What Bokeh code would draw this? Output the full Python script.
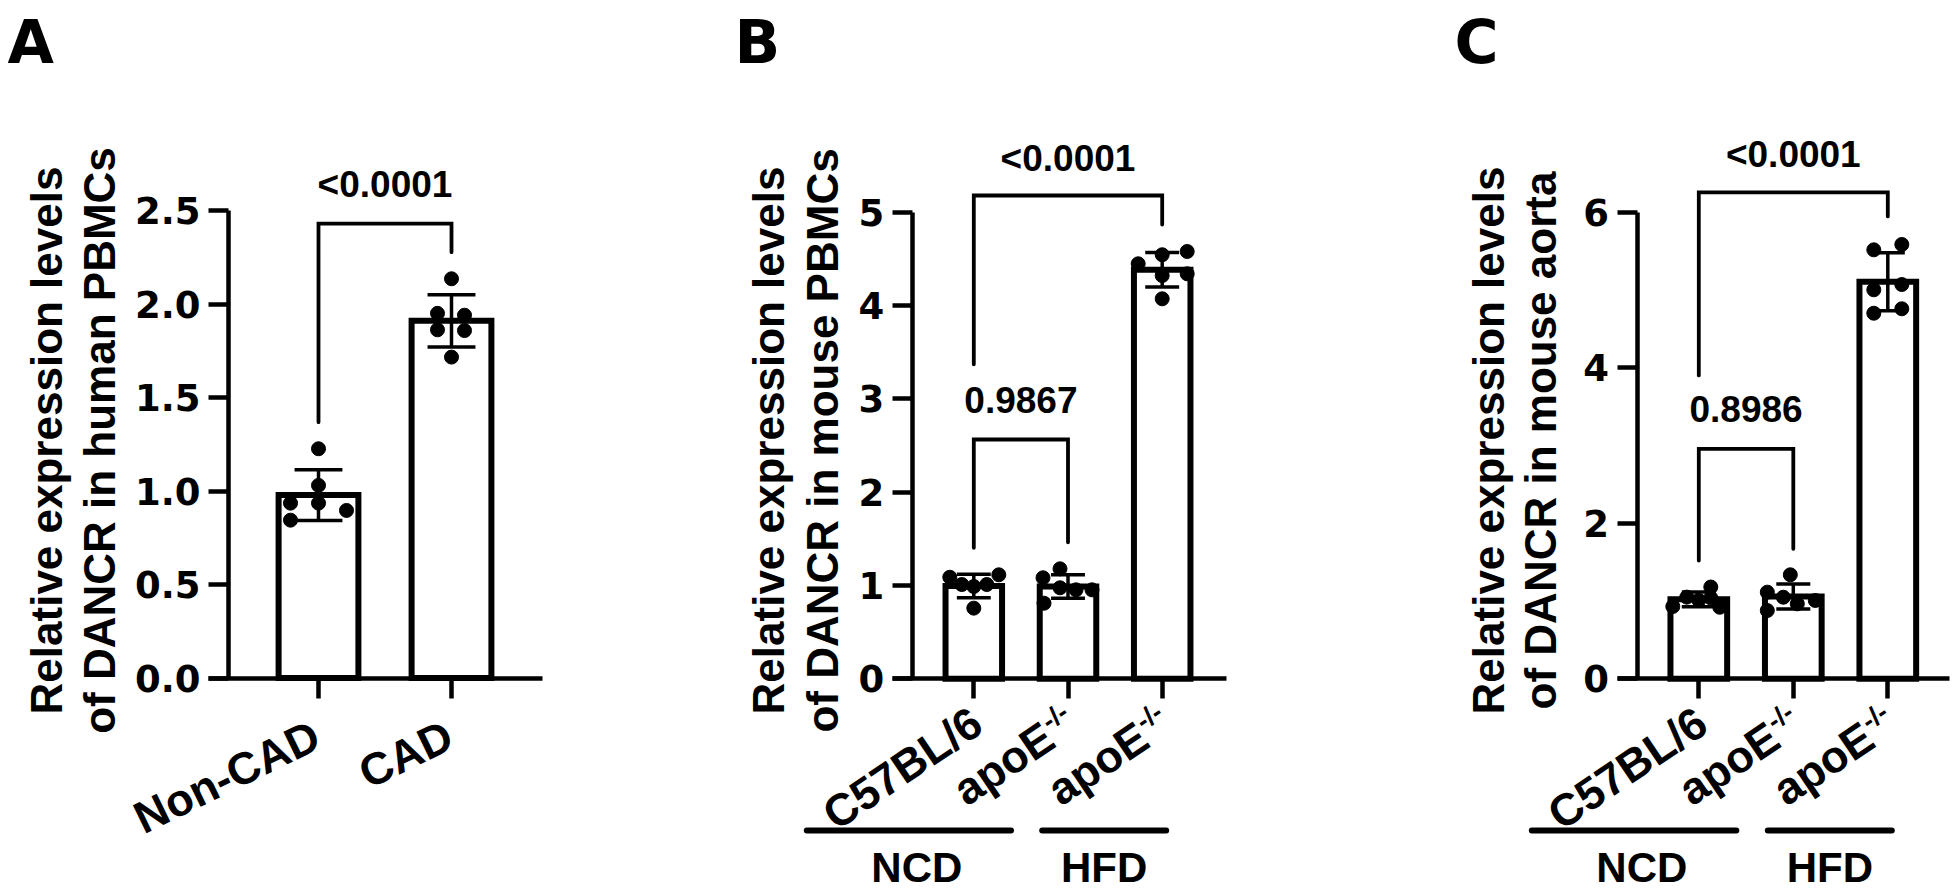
import math
from bokeh.plotting import figure
from bokeh.layouts import row
from bokeh.models import Range1d, FixedTicker, NumeralTickFormatter
from bokeh.core.properties import value
from bokeh.embed import file_html
from bokeh.resources import INLINE

# ---------------- data ----------------
a_title = "A"
a_categories = ["Non-CAD", "CAD"]
a_superscripts = ["", ""]
a_means = [0.978, 1.91]
a_sds = [0.136, 0.14]
a_points_noncad = [1.226, 1.03, 0.935, 0.935, 0.896, 0.844]
a_points_cad = [2.135, 1.95, 1.94, 1.862, 1.858, 1.716]
a_yticks = [0.0, 0.5, 1.0, 1.5, 2.0, 2.5]
a_ytick_labels = ["0.0", "0.5", "1.0", "1.5", "2.0", "2.5"]
a_ylabel = ["Relative expression levels", "of DANCR in human PBMCs"]
a_pvalues = ["<0.0001"]

b_title = "B"
b_categories = ["C57BL/6", "apoE", "apoE"]
b_superscripts = ["", "-/-", "-/-"]
b_groups = ["NCD", "HFD"]
b_means = [0.995, 0.99, 4.383]
b_sds = [0.126, 0.126, 0.185]
b_points_c57 = [1.088, 1.114, 1.01, 0.989, 1.01, 0.757]
b_points_apoe_ncd = [1.178, 1.082, 0.975, 0.953, 0.953, 0.81]
b_points_apoe_hfd = [4.446, 4.578, 4.543, 4.32, 4.339, 4.071]
b_yticks = [0, 1, 2, 3, 4, 5]
b_ytick_labels = ["0", "1", "2", "3", "4", "5"]
b_ylabel = ["Relative expression levels", "of DANCR in mouse PBMCs"]
b_pvalues = ["0.9867", "<0.0001"]

c_title = "C"
c_categories = ["C57BL/6", "apoE", "apoE"]
c_superscripts = ["", "-/-", "-/-"]
c_groups = ["NCD", "HFD"]
c_means = [1.022, 1.058, 5.104]
c_sds = [0.095, 0.16, 0.372]
c_points_c57 = [1.18, 1.05, 1.01, 1.04, 0.93, 0.92]
c_points_apoe_ncd = [1.337, 1.114, 1.049, 0.964, 1.007, 0.878]
c_points_apoe_hfd = [5.515, 5.584, 5.001, 5.069, 4.70, 4.757]
c_yticks = [0, 2, 4, 6]
c_ytick_labels = ["0", "2", "4", "6"]
c_ylabel = ["Relative expression levels", "of DANCR in mouse aorta"]
c_pvalues = ["0.8986", "<0.0001"]

# ---------------- layout (page pixels) ----------------
PAGE_TOP = 0
FIG_H = 892
ARIAL = value("Liberation Sans")
BASE_FIX = 0.36   # em shift so that the text baseline lands where intended

geom = {
    "A": dict(left=0, width=600, axis_x=228, cat1=318, step=133, y0=677.5, ytop=210, ymax=2.5,
              xend=542, lab_dx=-13, lab_dy=32, lab_size=45, lab_angle=26,
              ylab_px=[62, 115], title_x=7),
    "B": dict(left=600, width=740, axis_x=911.7, cat1=973.3, step=94.2, y0=678.3, ytop=211.6, ymax=5,
              xend=1226, lab_dx=-11, lab_dy=18, lab_size=45, lab_angle=34,
              ylab_px=[784, 838], title_x=734),
    "C": dict(left=1340, width=616, axis_x=1636.5, cat1=1698.3, step=94.5, y0=678.3, ytop=211.6, ymax=6,
              xend=1949, lab_dx=-11, lab_dy=18, lab_size=45, lab_angle=34,
              ylab_px=[1504, 1556], title_x=1454),
}

# jitter of the dots (pixels) and bracket geometry (data units)
jitter = {
    "A": [[0, 0, -28, 0, 28, -28], [0, -14, 13, -14, 13, 0]],
    "B": [[-24, 25, -12, 0, 13, 0], [-8, -25, -8, 8, 24, -24], [-24, 25, 0, 0, 25, 0]],
    "C": [[12, -12, 0, 12, -26, 21], [-3, -26, -10, 4, 22, -26], [-14, 14, -14, 14, -14, 14]],
}
# (cat_left, cat_right, leg_left_bottom, top, leg_right_bottom, text_baseline)
brackets = {
    "A": [(1, 2, 1.368, 2.43, 2.277, 2.57)],
    "B": [(1, 2, 1.403, 2.564, 1.463, 2.842), (1, 3, 3.37, 5.178, 4.867, 5.427)],
    "C": [(1, 2, 1.52, 2.957, 1.671, 3.295), (1, 3, 3.9, 6.253, 5.944, 6.574)],
}
# group lines: (first cat, left px offset, last cat, right px offset)
group_lines = [(1, -167, 2, -57), (3, -120, 3, 4)]
group_text_px = [(1, -57), (3, -58)]
GROUP_LINE_Y = 830
GROUP_TEXT_Y = 882


def build(key, title, cats, sups, means, sds, point_sets, yticks, ytick_labels, ylabel, pvalues,
          groups=None, fmt="0"):
    g = geom[key]
    step = g["step"]
    sy = (g["y0"] - g["ytop"]) / g["ymax"]

    def xd(px):
        return 1 + (px - g["cat1"]) / step

    def yd(py):
        return (g["y0"] - py) / sy

    p = figure(width=g["width"], height=FIG_H,
               x_range=Range1d(xd(g["left"]), xd(g["left"] + g["width"])),
               y_range=Range1d(yd(PAGE_TOP + FIG_H), yd(PAGE_TOP)),
               output_backend="svg", toolbar_location=None, min_border=0,
               background_fill_color="white", border_fill_color="white")
    p.outline_line_color = None
    p.xgrid.visible = False
    p.ygrid.visible = False

    ncat = len(cats)
    xs = list(range(1, ncat + 1))

    # y axis
    ya = p.yaxis[0]
    ya.fixed_location = xd(g["axis_x"])
    ya.bounds = (0, g["ymax"])
    ya.ticker = FixedTicker(ticks=yticks, minor_ticks=[])
    ya.formatter = NumeralTickFormatter(format=fmt)
    ya.major_label_overrides = {float(t): lab for t, lab in zip(yticks, ytick_labels)}
    ya.axis_line_width = 4.5
    ya.major_tick_line_width = 4.5
    ya.major_tick_out = 20
    ya.major_tick_in = 0
    ya.minor_tick_out = 0
    ya.minor_tick_in = 0
    ya.major_label_standoff = 8
    ya.major_label_text_font = "DejaVu Sans"
    ya.major_label_text_font_style = "bold"
    ya.major_label_text_font_size = "37px"
    ya.major_label_text_color = "black"

    # x axis
    xa = p.xaxis[0]
    xa.fixed_location = 0
    xa.bounds = (xd(g["axis_x"] - 20), xd(g["xend"]))
    xa.ticker = FixedTicker(ticks=xs, minor_ticks=[])
    xa.major_label_overrides = {x: "" for x in xs}
    xa.axis_line_width = 4.5
    xa.major_tick_line_width = 4.5
    xa.major_tick_out = 20
    xa.major_tick_in = 0
    xa.minor_tick_out = 0
    xa.minor_tick_in = 0
    xa.major_label_text_font_size = "0px"

    # bars
    p.vbar(x=xs, top=means, width=0.6, bottom=0, fill_color="white",
           line_color="black", line_width=6, line_join="miter")

    # error bars (mean +/- SD)
    cap = 0.18
    hi = [m + s for m, s in zip(means, sds)]
    lo = [m - s for m, s in zip(means, sds)]
    p.segment(x0=xs, y0=lo, x1=xs, y1=hi, line_color="black", line_width=3.5)
    p.segment(x0=[x - cap for x in xs] * 2, x1=[x + cap for x in xs] * 2,
              y0=hi + lo, y1=hi + lo, line_color="black", line_width=3.5)

    # individual points
    for i, pts in enumerate(point_sets):
        offs = jitter[key][i]
        p.scatter(x=[xs[i] + o / step for o in offs], y=pts, size=14,
                  marker="circle", fill_color="black", line_color="black")

    def htext(px, py_base, txt, size, font=ARIAL, align="center"):
        p.text(x=[xd(px)], y=[yd(py_base - BASE_FIX * size)], text=[txt], text_font=font,
               text_font_style="bold", text_font_size=f"{size}px", text_align=align,
               text_baseline="alphabetic", text_color="black")

    # significance brackets
    for (c1, c2, l1, top, l2, tb), txt in zip(brackets[key], pvalues):
        p.line(x=[c1, c1, c2, c2], y=[l1, top, top, l2], line_color="black",
               line_width=3.8, line_join="miter", line_cap="round")
        base_px = g["y0"] - tb * sy
        mid_px = g["cat1"] + ((c1 + c2) / 2 - 1) * step
        htext(mid_px, base_px, txt, 37)

    # y-axis title (two lines, rotated)
    for line, bx in zip(ylabel, g["ylab_px"]):
        p.text(x=[xd(bx - BASE_FIX * 44)], y=[yd(440)], text=[line], angle=math.pi / 2,
               text_font=ARIAL, text_font_style="bold", text_font_size="44px",
               text_align="center", text_baseline="alphabetic", text_color="black")

    # category labels (rotated)
    ang = math.radians(g["lab_angle"])
    ca, sa = math.cos(ang), math.sin(ang)
    size = g["lab_size"]
    sup_size = round(size * 0.6)
    for i, (name, sup) in enumerate(zip(cats, sups)):
        tick_px = g["cat1"] + i * step
        ax_px = tick_px + g["lab_dx"]
        ay_px = g["y0"] + g["lab_dy"]
        if sup:
            p.text(x=[xd(ax_px)], y=[yd(ay_px)], text=[sup], angle=ang, text_font=ARIAL,
                   text_font_style="bold", text_font_size=f"{sup_size}px", text_align="right",
                   text_baseline="top", text_color="black")
            w = sup_size * (0.333 + 0.278 + 0.333) + 1
            ax_px -= w * ca
            ay_px += w * sa
        p.text(x=[xd(ax_px)], y=[yd(ay_px)], text=[name], angle=ang, text_font=ARIAL,
               text_font_style="bold", text_font_size=f"{size}px", text_align="right",
               text_baseline="top", text_color="black")

    # treatment groups under the axis
    if groups:
        for (c_a, oa, c_b, ob), (ct, ot), gname in zip(group_lines, group_text_px, groups):
            x0 = xd(g["cat1"] + (c_a - 1) * step + oa)
            x1 = xd(g["cat1"] + (c_b - 1) * step + ob)
            p.segment(x0=[x0], x1=[x1], y0=[yd(GROUP_LINE_Y)], y1=[yd(GROUP_LINE_Y)],
                      line_color="black", line_width=6, line_cap="round")
            htext(g["cat1"] + (ct - 1) * step + ot, GROUP_TEXT_Y, gname, 42)

    # panel letter
    htext(g["title_x"], 63, title, 60, font=value("DejaVu Sans"), align="left")
    return p


pa = build("A", a_title, a_categories, a_superscripts, a_means, a_sds,
           [a_points_noncad, a_points_cad], a_yticks, a_ytick_labels, a_ylabel, a_pvalues,
           groups=None, fmt="0.0")
pb = build("B", b_title, b_categories, b_superscripts, b_means, b_sds,
           [b_points_c57, b_points_apoe_ncd, b_points_apoe_hfd], b_yticks, b_ytick_labels,
           b_ylabel, b_pvalues, groups=b_groups)
pc = build("C", c_title, c_categories, c_superscripts, c_means, c_sds,
           [c_points_c57, c_points_apoe_ncd, c_points_apoe_hfd], c_yticks, c_ytick_labels,
           c_ylabel, c_pvalues, groups=c_groups)

layout = row(pa, pb, pc, spacing=0)
open("out.html", "w").write(file_html(layout, INLINE))
